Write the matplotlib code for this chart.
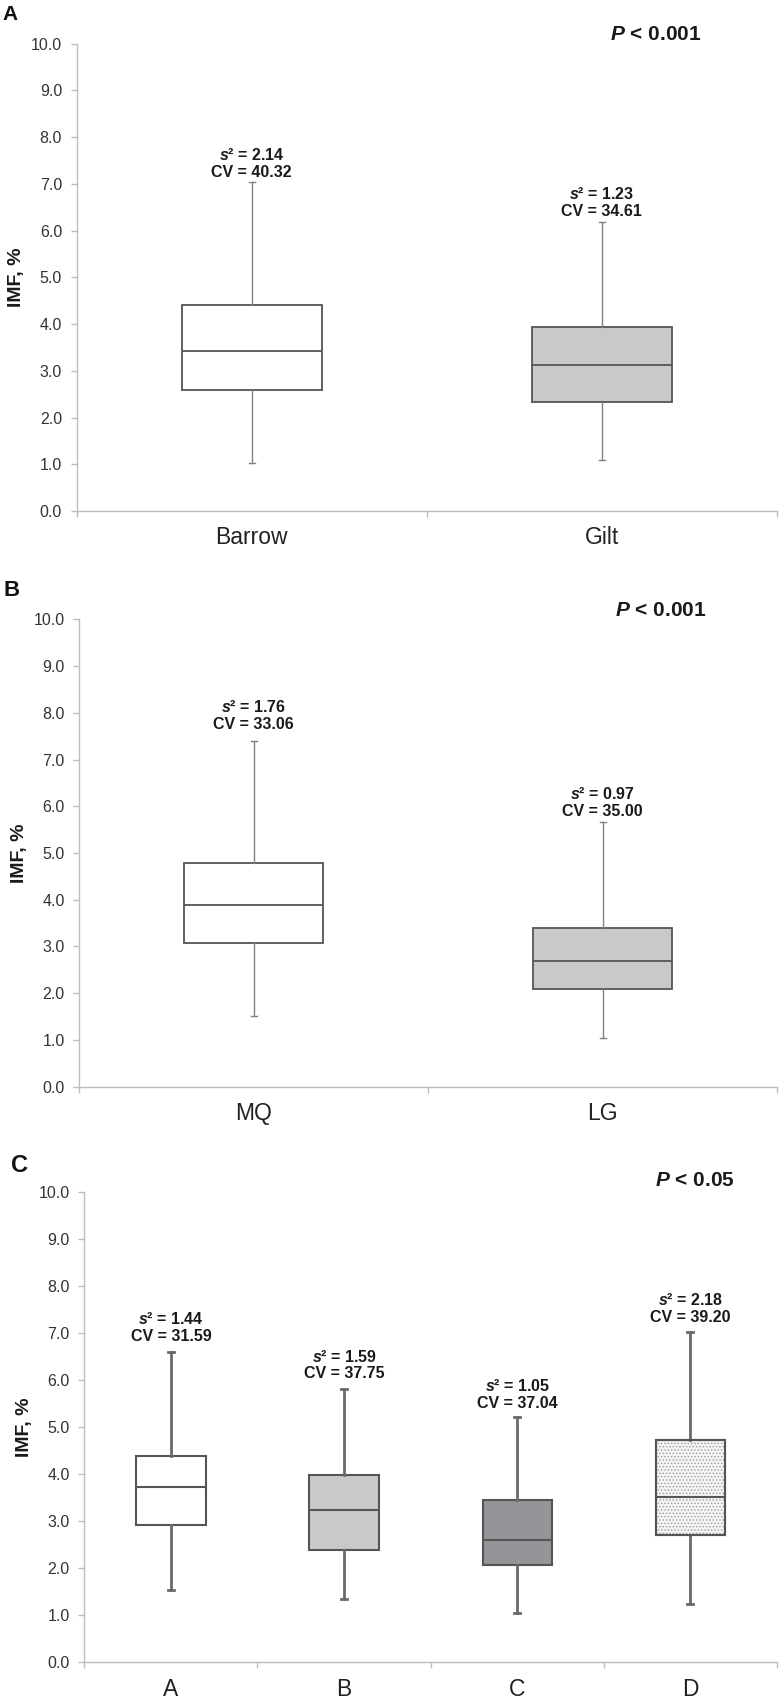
import matplotlib
matplotlib.use('Agg')
import matplotlib.pyplot as plt
from matplotlib.patches import PathPatch
from matplotlib.ticker import FormatStrFormatter, FixedLocator, NullFormatter
import numpy as np

plt.rcParams['font.family'] = ['Liberation Sans', 'DejaVu Sans']
plt.rcParams['mathtext.fontset'] = 'custom'
plt.rcParams['mathtext.it'] = 'Liberation Sans:italic:bold'
plt.rcParams['mathtext.rm'] = 'Liberation Sans:bold'
plt.rcParams['mathtext.bf'] = 'Liberation Sans:bold'
plt.rcParams['hatch.linewidth'] = 0.6

# ---------------- data ----------------
# Panel A: sex
a_groups = ['Barrow', 'Gilt']
a_whislo = [1.03, 1.10]
a_q1 = [2.58, 2.34]
a_med = [3.42, 3.12]
a_q3 = [4.40, 3.94]
a_whishi = [7.03, 6.19]
a_var = [2.14, 1.23]
a_cv = [40.32, 34.61]
a_p = '< 0.001'

# Panel B: sire line
b_groups = ['MQ', 'LG']
b_whislo = [1.51, 1.04]
b_q1 = [3.07, 2.08]
b_med = [3.88, 2.70]
b_q3 = [4.78, 3.40]
b_whishi = [7.40, 5.66]
b_var = [1.76, 0.97]
b_cv = [33.06, 35.00]
b_p = '< 0.001'

# Panel C: groups
c_groups = ['A', 'B', 'C', 'D']
c_whislo = [1.53, 1.35, 1.04, 1.24]
c_q1 = [2.91, 2.38, 2.07, 2.71]
c_med = [3.72, 3.23, 2.60, 3.52]
c_q3 = [4.39, 3.99, 3.45, 4.72]
c_whishi = [6.59, 5.81, 5.22, 7.02]
c_var = [1.44, 1.59, 1.05, 2.18]
c_cv = [31.59, 37.75, 37.04, 39.20]
c_p = '< 0.05'

y_ticks = [0, 1, 2, 3, 4, 5, 6, 7, 8, 9, 10]

# ---------------- layout / style ----------------
W, H = 779, 1700
fig = plt.figure(figsize=(W / 100, H / 100), dpi=100)

SPINE = '#bdbdbd'
EDGE = '#555555'
LIGHT = '#c8c9cb'
DARK = '#939598'


def panel(letter, letter_xy, letter_size, left, top, bottom, groups, whislo, q1, med, q3,
          whishi, var, cv, ptext, p_xy, fills, hatches, txt_gap, whisk_lw, whisk_col, box_lw,
          right=777):
    ax = fig.add_axes([left / W, 1 - bottom / H, (right - left) / W, (bottom - top) / H])
    n = len(groups)
    pos = np.arange(n) + 0.5
    stats = [dict(med=med[i], q1=q1[i], q3=q3[i], whislo=whislo[i], whishi=whishi[i], fliers=[])
             for i in range(n)]
    px_per_unit = (right - left) / n
    bp = ax.bxp(stats, positions=pos, widths=0.4, patch_artist=True, showfliers=False,
                manage_ticks=False, capwidths=6 / px_per_unit,
                boxprops=dict(edgecolor=EDGE, linewidth=box_lw),
                whiskerprops=dict(color=whisk_col, linewidth=whisk_lw),
                capprops=dict(color=whisk_col, linewidth=whisk_lw),
                medianprops=dict(color=EDGE, linewidth=box_lw))
    for i, b in enumerate(bp['boxes']):
        b.set_facecolor(fills[i])
        if hatches[i]:
            hp = PathPatch(b.get_path(), facecolor='none', edgecolor='#9a9a9a', lw=0,
                           hatch=hatches[i], zorder=b.get_zorder() + 0.01)
            ax.add_patch(hp)
            ol = PathPatch(b.get_path(), facecolor='none', edgecolor=EDGE, lw=box_lw,
                           zorder=b.get_zorder() + 0.02)
            ax.add_patch(ol)
    for m in bp['medians']:
        m.set_zorder(5)

    ax.set_xlim(0, n)
    ax.set_ylim(0, 10)
    ax.set_yticks(y_ticks)
    ax.yaxis.set_major_formatter(FormatStrFormatter('%.1f'))
    ax.xaxis.set_major_locator(FixedLocator(np.arange(n + 1)))
    ax.xaxis.set_major_formatter(NullFormatter())
    ax.xaxis.set_minor_locator(FixedLocator(pos))
    ax.set_xticklabels(groups, minor=True)
    ax.tick_params(axis='x', which='major', length=4.3, width=1, color=SPINE)
    ax.tick_params(axis='x', which='minor', length=0, pad=11, labelsize=16.5, labelcolor='#222222')
    ax.tick_params(axis='y', length=4, width=1, color=SPINE, pad=6.5, labelsize=11.5,
                   labelcolor='#333333')
    for s in ['top', 'right']:
        ax.spines[s].set_visible(False)
    for s in ['left', 'bottom']:
        ax.spines[s].set_color(SPINE)
        ax.spines[s].set_linewidth(1)

    for i in range(n):
        ax.annotate(f'$s$\u00b2 = {var[i]:.2f}\nCV = {cv[i]:.2f}', xy=(pos[i], whishi[i]),
                    xytext=(0, txt_gap[i]), textcoords='offset points', ha='center',
                    va='bottom', fontsize=11.5, fontweight='bold', color='#1a1a1a',
                    linespacing=1.15)

    fig.text((left - 60) / W, 1 - (top + bottom) / 2 / H, 'IMF, %', rotation=90,
             ha='center', va='center', fontsize=14, fontweight='bold', color='#1a1a1a')
    fig.text(p_xy[0] / W, 1 - p_xy[1] / H, f'$P$ {ptext}', ha='center', va='center',
             fontsize=15, fontweight='bold', color='#1a1a1a')
    fig.text(letter_xy[0] / W, 1 - letter_xy[1] / H, letter, ha='center', va='center',
             fontsize=letter_size, fontweight='bold', color='#111111')
    return ax


panel('A', (10, 14), 15, 76.7, 43.7, 511, a_groups, a_whislo, a_q1, a_med, a_q3, a_whishi,
      a_var, a_cv, a_p, (656, 35), ['white', LIGHT], [None, None], [1.7, 2.3],
      1.0, '#808080', 1.3)
panel('B', (12, 591), 16, 79.3, 619.3, 1086.7, b_groups, b_whislo, b_q1, b_med, b_q3, b_whishi,
      b_var, b_cv, b_p, (661, 611), ['white', LIGHT], [None, None], [6.2, 2.6],
      1.0, '#808080', 1.3)
panel('C', (20, 1166), 17, 84.3, 1192, 1662.3, c_groups, c_whislo, c_q1, c_med, c_q3, c_whishi,
      c_var, c_cv, c_p, (695, 1180), ['white', LIGHT, DARK, '#f4f4f4'],
      [None, None, None, '.....'], [6.2, 5.5, 4.4, 5.5],
      2.0, '#6a6a6a', 1.5)

fig.savefig('out.png', dpi=100, facecolor='white')
